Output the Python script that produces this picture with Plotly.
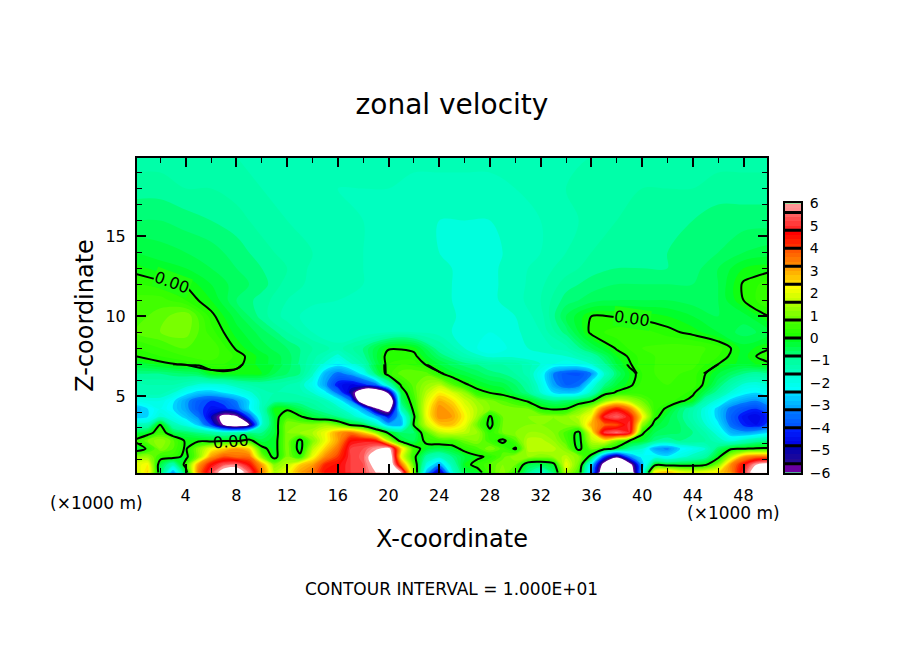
import plotly.graph_objects as go

# x positions (km): every 1 km below z = 7, every 2 km above
x_fine = list(range(0, 51))
x_coarse = list(range(0, 51, 2))
z_low = [0.2, 0.7, 1.2, 1.7, 2.2, 2.7, 3.2, 3.7, 4.2, 4.7, 5.2, 5.7, 6.4, 7.0]
z_high = [6.4, 7.0, 7.5, 8, 9, 10, 11, 12, 13, 14, 16, 18, 20]

# zonal velocity, one list per height
u_z02 = [1.5,2.5,-0.5,-3.2,-0.5,3.5,5.2,6.8,7,5.5,3.5,1.5,2,3,3.5,4.5,4.5,5,5.2,6,6.5,6.2,1,-3,-5.5,-2,-0.5,-0.3,0.5,1.2,0.3,-1,-1.8,-0.8,1.5,0.5,-3,-8,-9,-8,-2.5,2.5,3,2.2,2,2.2,2.5,3.2,5,7,7]
u_z07 = [1.8,2.2,-0.5,-1.5,0.3,3,4.5,5.3,5.5,4.5,3,1,1.5,2.5,3,4.2,4.5,5,5.2,6.5,7.5,3.5,0.6,-2,-3.2,-1.5,-0.2,0.2,0.6,1,0.8,-0.5,-0.6,-0.3,2,0.8,-2.5,-7,-8,-7,-3,-0.2,-0.3,-0.3,-0.3,-0.1,1,3.2,4.5,6,6.5]
u_z12 = [1,1.2,0.3,0.3,-0.2,1,3,3.8,3.5,3.5,1,-0.3,1,0.2,2,3.2,4,5,5.3,7,7.5,2,0.2,-1.2,-1.6,-1,-0.4,-0.1,0.1,0.7,1.2,1.2,1,1.2,1.5,1,-0.3,-4,-6,-3.5,-2.4,-2.2,-2.5,-2,-1.6,-1.2,-0.2,1.5,3,3.5,3.5]
u_z17 = [-0.5,0.1,1,0.6,-0.1,1,2,2.5,3,2.5,0.2,-0.3,1,-0.3,1.5,2.5,3.5,5,5.2,5.8,6.5,2.5,0.3,-0.3,-0.5,-0.3,0.2,0.5,1,0.5,-0.1,1.5,1.6,1.5,1,-0.2,0.8,0.3,-0.2,-1.2,-1.8,-3.2,-3.5,-2.6,-2.2,-1.8,-0.8,-0.1,0,0.1,0.1]
u_z22 = [0.1,0.8,1.2,0.7,-0.1,-0.1,-0.2,-0.1,-0.1,0.2,-0.5,-0.3,1,-0.2,1,2,3,4.5,4.7,4.5,1.5,-0.3,-0.6,0.2,0.4,0.4,0.8,1,0.4,-0.2,0.6,1.5,1.5,1.2,0.6,-0.3,1.5,2,0.9,0,-0.3,-1,-1.2,-1,-1,-1.2,-1.6,-2,-1.6,-1.2,-1]
u_z27 = [-0.5,-0.3,0.4,-0.5,-0.7,-1,-1.2,-1.5,-1.3,-1,-1,-0.4,1,1.2,1.4,2,3,3.5,2.6,1.2,-0.1,-0.8,-0.8,0.6,1.5,1.7,1.5,1.2,0.2,0.8,1,1.2,1.2,1,0.5,-0.2,2,5,5.5,4.8,0.1,-0.6,-0.7,-0.8,-1,-1.4,-2,-3,-3.2,-3,-2.6]
u_z32 = [-1.5,-1.5,0.1,-1.5,-2,-2.8,-4.2,-6.3,-7.5,-6.2,-1.8,-0.4,1,1,1,1.3,0.8,-0.1,-0.5,-1.5,-3,-3,0.1,1.6,2.5,2.6,2,0.8,-0.2,0.8,0.9,1,1,1,1,1.2,2.8,3.6,3.8,5,1.2,-0.3,-0.6,-0.8,-1.2,-1.8,-2.5,-3.6,-4.3,-4.6,-4]
u_z37 = [-2.8,-2.6,-1.8,-2.2,-2.8,-3.5,-5,-6.8,-6.5,-4,-1.8,-0.3,0.5,0.1,-0.4,-0.7,-1,-1.5,-2.2,-3,-4.5,-2.8,-0.1,2,3.2,3,2.2,1.3,-0.1,0.8,1,1,1.1,1,1.1,1.5,2.2,4.8,5.4,4.6,2.3,0.2,-0.5,-0.9,-1.4,-2,-2.8,-3.8,-4.5,-4.8,-4.2]
u_z42 = [-3,-2.6,-2.2,-2.6,-3.2,-4,-4.5,-4.4,-3.8,-2.6,-1.6,-0.1,-0.1,-0.6,-1,-1.3,-1.6,-2.2,-3.2,-6,-7.2,-1.5,0.2,2,3.2,2.8,2,1.4,1,1,0.9,0.8,0.1,-0.1,0,0.8,1.5,3.5,4.4,3.4,1.5,0.3,-0.1,-0.8,-1.3,-2,-2.8,-3.6,-4,-4.2,-3.6]
u_z47 = [-2.2,-2,-2,-2.5,-3.2,-3.9,-4.2,-4,-3.4,-2.6,-1.6,-1.2,-1.2,-1.2,-1.3,-1.6,-2.2,-3.4,-8,-9,-9,-0.8,0.4,1.8,2.8,2.4,1.7,1.2,0.9,0.6,0.3,-0.1,-0.6,-0.9,-0.8,-0.5,-0.1,1,1.8,1.4,0.8,0.3,0.3,0.1,-0.2,-1.4,-2,-2.8,-3.2,-3.4,-3]
u_z52 = [-1.6,-1.5,-1.5,-1.8,-2.4,-2.8,-2.9,-2.6,-2.3,-1.9,-1.5,-1.4,-1.4,-1.5,-1.8,-2.4,-3.6,-5.2,-8,-8.5,-6,-0.4,0.6,1.5,2.2,1.8,1.2,0.2,0,-0.2,-0.6,-1,-1.8,-2.6,-2.8,-2.6,-1.6,-0.3,0.1,0.3,0.3,0.3,0.3,0.3,0.1,-0.6,-1.2,-1.9,-2.4,-2.6,-2.2]
u_z57 = [-1.5,-1.4,-1.4,-1.4,-1.6,-1.9,-2,-1.9,-1.6,-1.4,-1.3,-1.3,-1.4,-1.6,-2.2,-3.2,-4.5,-4.8,-4.4,-3.8,-1.6,0.1,0.7,1.2,1.5,0.7,0.1,-0.2,-0.4,-0.5,-0.8,-1.2,-2,-3.2,-3.8,-3.6,-2.2,-1,-0.4,-0.1,0.3,0.4,0.4,0.4,0.3,-0.1,-0.8,-1.4,-1.9,-2,-1.8]
u_z64 = [-1,-1,-1,-0.9,-0.8,-0.7,-0.2,-0.1,-0.1,-0.1,-0.2,-0.6,-0.8,-1,-1.7,-3,-3.6,-3.2,-2.4,-0.8,0.3,0.7,0.8,0.7,0.1,-0.3,-0.5,-0.7,-0.9,-1,-1.2,-1.5,-2.2,-3.4,-4,-4.1,-3.4,-1.8,-0.8,-0.2,0.2,0.4,0.5,0.4,0.3,0,-0.4,-0.7,-1,-1.2,-1]
u_z70 = [-0.4,-0.3,-0.1,0,0.05,0.1,0.3,0.3,0.1,-0.1,-0.3,-0.4,-0.7,-1,-1.4,-2,-2.4,-2,-1.4,-0.4,0.2,0.4,0.3,0,-0.4,-0.7,-0.9,-1,-1.2,-1.2,-1.3,-1.5,-1.8,-2.2,-2.2,-2.2,-1.8,-1.1,-0.4,0.1,0.3,0.4,0.5,0.5,0.5,0.2,0,-0.2,-0.3,-0.1,-0.1]

u_z75 = [0,0.2,0.4,0.5,0.15,-0.3,-0.7,-1.3,-1.9,-1.1,0.2,0.1,-0.8,-1.5,-1.9,-1.9,-1.9,-1.8,-1.3,-0.2,0.3,0.5,0.5,0.2,-0.3,0.3]
u_z80 = [0.2,0.4,0.6,0.6,-0.05,-0.5,-0.8,-1.2,-1.5,-1,-0.05,-0.1,-1.2,-1.8,-2.2,-1.9,-1.7,-1.5,-0.6,0.05,0.4,0.5,0.5,0.3,-0.3,-0.05]
u_z90 = [0.6,0.8,0.9,0.3,-0.3,-0.7,-1.2,-1.6,-1.8,-1.75,-1.6,-1.6,-1.7,-1.9,-2,-1.85,-1.6,-0.9,0.1,0.3,0.3,0.1,-0.1,-0.4,-0.7,-0.5]
u_z100 = [0.5,0.7,1,0.1,-0.5,-1.1,-1.5,-1.7,-1.8,-1.7,-1.6,-1.6,-1.7,-1.85,-1.9,-1.8,-1.5,-0.6,0,-0.02,-0.1,-0.2,-0.4,-0.6,-0.5,0]
u_z110 = [0.5,0.5,0.2,-0.2,-0.8,-1.1,-1.4,-1.55,-1.6,-1.6,-1.6,-1.65,-1.75,-1.85,-1.85,-1.7,-1.4,-0.9,-0.7,-0.6,-0.6,-0.6,-0.7,-0.6,0,0.4]
u_z120 = [0.2,0.1,-0.03,-0.4,-0.7,-0.9,-1.3,-1.45,-1.55,-1.6,-1.6,-1.65,-1.75,-1.85,-1.85,-1.7,-1.45,-1.1,-0.9,-0.8,-0.8,-0.8,-0.8,-0.6,0.05,0.3]
u_z130 = [-0.1,-0.3,-0.4,-0.6,-0.8,-1,-1.2,-1.45,-1.55,-1.6,-1.65,-1.7,-1.75,-1.85,-1.85,-1.7,-1.5,-1.3,-1.1,-1,-1,-1,-0.9,-0.6,-0.2,-0.1]
u_z140 = [-0.4,-0.5,-0.6,-0.7,-0.9,-1.1,-1.3,-1.4,-1.55,-1.6,-1.65,-1.7,-1.8,-1.85,-1.85,-1.75,-1.6,-1.4,-1.2,-1.1,-1,-1,-0.9,-0.8,-0.6,-0.5]
u_z160 = [-0.8,-0.8,-0.9,-1,-1.1,-1.3,-1.4,-1.45,-1.5,-1.6,-1.65,-1.7,-1.8,-1.8,-1.8,-1.7,-1.6,-1.5,-1.3,-1.2,-1.1,-1,-1,-0.9,-0.9,-0.9]
u_z180 = [-1.1,-1.1,-1.2,-1.2,-1.3,-1.4,-1.4,-1.5,-1.6,-1.6,-1.6,-1.7,-1.7,-1.7,-1.7,-1.6,-1.5,-1.4,-1.3,-1.3,-1.2,-1.2,-1.2,-1.1,-1.1,-1.1]
u_z200 = [-1.3,-1.3,-1.3,-1.3,-1.4,-1.4,-1.4,-1.4,-1.5,-1.5,-1.5,-1.5,-1.5,-1.5,-1.5,-1.5,-1.4,-1.4,-1.4,-1.4,-1.3,-1.3,-1.3,-1.3,-1.3,-1.3]

u_low = [u_z02, u_z07, u_z12, u_z17, u_z22, u_z27, u_z32, u_z37, u_z42, u_z47, u_z52, u_z57, u_z64, u_z70]
u_high = [u_z64[::2], u_z70[::2], u_z75, u_z80, u_z90, u_z100, u_z110, u_z120, u_z130, u_z140, u_z160, u_z180, u_z200]

# colour key
key_levels = [-5.9 + 0.2 * i for i in range(60)]
key_edges = [-5.6, -4.8, -4.0, -3.2, -2.4, -1.6, -0.8, 0, 0.8, 1.6, 2.4, 3.2, 4.0, 4.8, 5.6]

color_values = [-6, -5.7, -5.6, -4.9, -4.8, -4.1, -4.0, -3.3, -3.2, -2.5, -2.4, -1.7, -1.6, -0.9, -0.8, -0.1,
                0.1, 0.7, 0.9, 1.5, 1.7, 2.3, 2.5, 3.1, 3.3, 3.9, 4.1, 4.7, 4.9, 5.5, 5.7, 6]
color_names = ["#6a00a0", "#6a00a0", "#2a0a90", "#0000b0", "#0000e0", "#0020ff", "#0050ff", "#0078ff", "#00a0ff",
               "#00d8ff", "#00ffff", "#00ffd8", "#00ffc0", "#00ff98", "#00ff78", "#00ff20",
               "#20ff00", "#48ff00", "#70ff00", "#a8ff00", "#c8ff00", "#ffff00", "#ffd800", "#ffa000",
               "#ff8800", "#ff5800", "#ff3000", "#ff0000", "#ff2828", "#ff6060", "#ff9090", "#ff9898"]

W, H = 904, 654


def px(v):
    return v / W


def py(v):
    # the plot area came out about 8.5 px below the top and 635 px tall
    return 1 - (v - 8.5) / 635


def scale(lo, hi):
    # white outside +-6, rainbow inside
    s = [[0, "white"], [(-6.05 - lo) / (hi - lo), "white"]]
    for v, c in zip(color_values, color_names):
        s.append([(v - lo) / (hi - lo), c])
    s.append([(6.05 - lo) / (hi - lo), "white"])
    s.append([1, "white"])
    return s


fig = go.Figure()

# contour maps a band to the colour at its lower level, over -6.5..6.5
fill_scale = scale(-6.4, 6.6)
grids = [(x_coarse, z_high, u_high), (x_fine, z_low, u_low)]
for xs, zs, u in grids:
    fig.add_trace(go.Contour(x=xs, y=zs, z=u, colorscale=fill_scale, showscale=False, hoverinfo="skip",
                             contours=dict(start=-6.4, end=6.4, size=0.2, coloring="fill"),
                             line=dict(width=0)))
for xs, zs, u in grids:
    fig.add_trace(go.Contour(x=xs, y=zs, z=u, showscale=False, hoverinfo="skip",
                             contours=dict(start=0, end=0, size=1, coloring="none"),
                             line=dict(color="black", width=2, smoothing=0.8)))

fig.add_trace(go.Heatmap(x=[0], y=key_levels, z=[[v] for v in key_levels], xaxis="x2", yaxis="y2",
                         colorscale=scale(-6.4, 6.4), zmin=-6.4, zmax=6.4, showscale=False, hoverinfo="skip"))

for e in key_edges:
    fig.add_shape(type="line", xref="x2", yref="y2", x0=-0.5, x1=0.5, y0=e, y1=e,
                  line=dict(color="black", width=3))

font = dict(family="DejaVu Sans", color="black")


def label(text, x, y, size, angle=0, bg=None):
    fig.add_annotation(text=text, xref="paper", yref="paper", x=px(x), y=py(y), showarrow=False,
                       xanchor="center", yanchor="middle",
                       font=dict(size=size, **font), textangle=angle, bgcolor=bg, borderpad=0)


label("0.00", 172, 282, 16, 20, "#20ff10")
label("0.00", 231, 440, 16, -5)
label("0.00", 632, 318, 16, 8, "#20ff10")
label("(×1000 m)", 96, 501, 17)
label("(×1000 m)", 733, 511, 17)
label("CONTOUR INTERVAL = 1.000E+01", 451, 587, 17)

axis = dict(showline=True, linecolor="black", linewidth=2, mirror="ticks", ticks="inside", showgrid=False,
            zeroline=False, tickcolor="black", tickwidth=2, ticklen=9, tickfont=dict(size=16, **font))

fig.update_layout(
    width=W, height=H, margin=dict(l=0, r=0, t=0, b=0), paper_bgcolor="white", plot_bgcolor="#00ff60",
    showlegend=False,
    title=dict(text="zonal velocity", x=px(452), y=1 - 104 / H, xanchor="center", yanchor="middle",
               font=dict(size=28, **font)),
    xaxis=dict(domain=[px(137), px(767)], range=[0.16, 49.85], tick0=0, dtick=4, ticklabelstandoff=7,
               minor=dict(dtick=2, ticks="inside", ticklen=5, tickwidth=1, tickcolor="black", showgrid=False),
               title=dict(text="X-coordinate", font=dict(size=24, **font), standoff=26), **axis),
    yaxis=dict(domain=[py(471), py(158)], range=[0.2, 19.9], tick0=0, dtick=5, ticklabelstandoff=6,
               minor=dict(dtick=1, ticks="inside", ticklen=5, tickwidth=1, tickcolor="black", showgrid=False),
               title=dict(text="Z-coordinate", font=dict(size=24, **font), standoff=5), **axis),
    xaxis2=dict(domain=[px(785), px(801)], range=[-0.5, 0.5], anchor="y2", showticklabels=False, ticks="",
                showline=True, linecolor="black", linewidth=2, mirror=True, showgrid=False, zeroline=False),
    yaxis2=dict(domain=[py(471), py(203)], range=[-6, 6], anchor="x2", side="right", tick0=0, dtick=1, ticks="",
                showline=True, linecolor="black", linewidth=2, mirror=True, showgrid=False, zeroline=False,
                tickfont=dict(size=14, **font), ticklabelstandoff=4),
)

# drop the page's default 8 px body margin so the picture sits at 0,0
fig.write_html("out.html", post_script="document.body.style.margin='0';", config=dict(displayModeBar=False))
